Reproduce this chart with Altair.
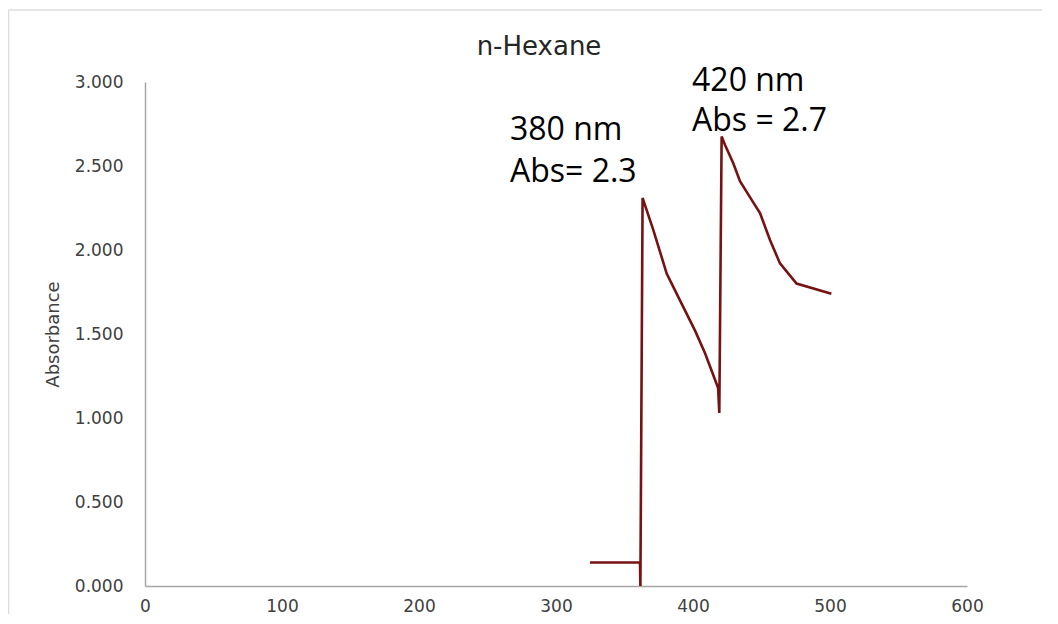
import altair as alt
import pandas as pd

# Spectrum trace (wavelength nm, absorbance)
wavelength = [324.8, 361.3, 361.6, 363.2, 371.0, 380.8, 390.5, 401.5, 408.8, 418.3,
              419.2, 420.9, 423.4, 429.4, 434.3, 442.7, 448.9, 456.2, 463.5, 475.6, 501.0]
absorbance = [0.14, 0.14, 0.0, 2.31, 2.12, 1.86, 1.70, 1.52, 1.385, 1.18,
              1.03, 2.675, 2.625, 2.516, 2.41, 2.30, 2.22, 2.06, 1.92, 1.80, 1.74]

# Annotation texts and their anchor positions (data units)
note_text = ["380 nm", "Abs= 2.3", "420 nm", "Abs = 2.7"]
note_x = [266.4, 266.4, 399.3, 399.3]
note_y = [2.655, 2.405, 2.945, 2.71]

x_ticks = [0, 100, 200, 300, 400, 500, 600]
y_ticks = [0.0, 0.5, 1.0, 1.5, 2.0, 2.5, 3.0]

chart_title = "n-Hexane"

df = pd.DataFrame({"wl": wavelength, "abs": absorbance, "i": list(range(len(wavelength)))})
notes = pd.DataFrame({"t": note_text, "x": note_x, "y": note_y})

xs = alt.Scale(domain=[0, 600], nice=False, zero=False)
ys = alt.Scale(domain=[0, 3], nice=False)

line = alt.Chart(df).mark_line(color="#761212", strokeWidth=2.6, clip=False).encode(
    x=alt.X("wl:Q", scale=xs,
            axis=alt.Axis(values=x_ticks, format="d", title=None, grid=False, ticks=False,
                          labelFlush=False, labelOverlap=False,
                          domainColor="#a6a6a6", domainWidth=1.5, labelFont="DejaVu Sans",
                          labelFontSize=17, labelColor="#404040", labelPadding=12)),
    y=alt.Y("abs:Q", scale=ys,
            axis=alt.Axis(values=y_ticks, format=".3f", title="Absorbance", grid=False,
                          ticks=False, labelFlush=False, labelOverlap=False,
                          domainColor="#a6a6a6", domainWidth=1.5,
                          labelFont="DejaVu Sans", labelFontSize=17, labelColor="#404040",
                          labelPadding=22, titleFont="DejaVu Sans", titleFontSize=18,
                          titleFontWeight="normal", titleColor="#404040", titlePadding=12)),
    order="i:Q",
)

text = alt.Chart(notes).mark_text(font="Open Sans", fontSize=32, color="black",
                                  align="left", baseline="alphabetic").encode(
    x=alt.X("x:Q", scale=xs), y=alt.Y("y:Q", scale=ys), text="t:N"
)

frame_df = pd.DataFrame({"k": [0]})
title_mark = alt.Chart(frame_df).mark_text(
    text=chart_title, font="DejaVu Sans", fontSize=26, color="#262626",
    align="center", baseline="alphabetic"
).encode(x=alt.value(394), y=alt.value(-27))

top_border = alt.Chart(frame_df).mark_rule(color="#dcdcdc", strokeWidth=1.5).encode(
    x=alt.value(-136.5), x2=alt.value(900), y=alt.value(-72)
)
left_border = alt.Chart(frame_df).mark_rule(color="#dcdcdc", strokeWidth=1.5).encode(
    x=alt.value(-136.5), y=alt.value(-72), y2=alt.value(540)
)

chart = alt.layer(top_border, left_border, title_mark, line, text).properties(
    width=822, height=504,
    autosize=alt.AutoSizeParams(type="none"),
    padding={"left": 137, "top": 74, "right": 75, "bottom": 28},
).configure_view(stroke=None)

chart.save("out.html", embed_options={"renderer": "svg", "actions": False})
